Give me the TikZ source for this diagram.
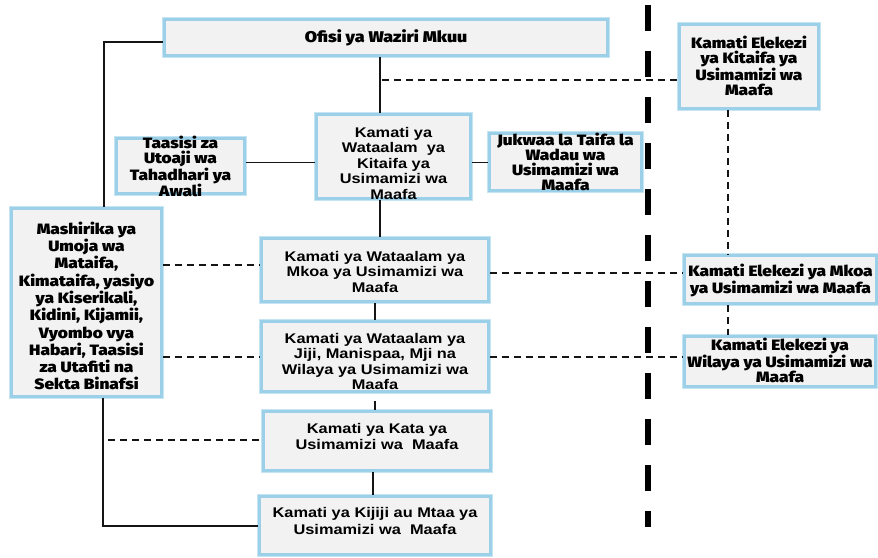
\documentclass[tikz,border=0pt]{standalone}
\usepackage{fontspec}
\setmainfont{Liberation Sans}
\newfontfamily\normfont[FakeStretch=1.17]{Liberation Sans Bold}
\IfFontExistsTF{Fira Sans Black}{\newfontfamily\heavyfont[FakeStretch=1.15]{Fira Sans Black}}{\newfontfamily\heavyfont[FakeStretch=1.18]{Liberation Sans Bold}}
\definecolor{boxfill}{HTML}{F2F2F2}
\definecolor{glow}{HTML}{C6E5F3}
\definecolor{core}{HTML}{9CD0E8}
\definecolor{ink}{HTML}{151515}
\tikzset{
  box/.style={rectangle, fill=boxfill, draw=core, line width=2.8pt,
    preaction={draw=glow, line width=5.5pt}, inner sep=0pt},
  txt/.style={align=center, inner sep=0pt, text=black,
    font=\normfont\fontsize{14}{15.5}\selectfont},
  htxt/.style={align=center, inner sep=0pt, text=black,
    font=\heavyfont\fontsize{15}{15.2}\selectfont},
  link/.style={draw=ink, line width=1.4pt},
  dlink/.style={draw=ink, line width=1.2pt, dash pattern=on 7pt off 5pt},
  divider/.style={draw=black, line width=6pt, dash pattern=on 26pt off 20pt}
}
\begin{document}
\begin{tikzpicture}[x=1pt,y=-1pt]
\useasboundingbox (0,0) rectangle (878,557);

% divider
\coordinate (divtop) at (648,5);
\coordinate (divbot) at (648,527);
\draw[divider] (divtop) -- (divbot);

% boxes
\node[box, minimum width=443, minimum height=36] (ofisi) at (386,37.5) {};
\node[htxt, font=\heavyfont\fontsize{15.5}{15.5}\selectfont] (ofisi-t) at (386,38) {Ofisi ya Waziri Mkuu};

\node[box, minimum width=139, minimum height=84] (elekKit) at (749,66.5) {};
\node[htxt] (elekKit-t) at (749,66) {Kamati Elekezi\\ya Kitaifa ya\\Usimamizi wa\\Maafa};

\node[box, minimum width=154, minimum height=84] (watKit) at (393.5,156.5) {};
\node[txt] (watKit-t) at (393.5,163) {Kamati ya\\Wataalam\ \ ya\\Kitaifa ya\\Usimamizi wa\\Maafa};

\node[box, minimum width=128, minimum height=55] (taasisi) at (180.5,166) {};
\node[htxt, font=\heavyfont\fontsize{15}{15}\selectfont] (taasisi-t) at (180.5,166.5) {Taasisi za\\Utoaji wa\\Tahadhari ya\\Awali};

\node[box, minimum width=152, minimum height=57] (jukwaa) at (565.5,162) {};
\node[htxt, font=\heavyfont\fontsize{15}{15}\selectfont] (jukwaa-t) at (565.5,161.5) {Jukwaa la Taifa la\\Wadau wa\\Usimamizi wa\\Maafa};

\node[box, minimum width=150, minimum height=188] (mashirika) at (86.5,302.5) {};
\node[htxt, font=\heavyfont\fontsize{15}{17.3}\selectfont] (mashirika-t) at (86.5,306) {Mashirika ya\\Umoja wa\\Mataifa,\\Kimataifa, yasiyo\\ya Kiserikali,\\Kidini, Kijamii,\\Vyombo vya\\Habari, Taasisi\\za Utafiti na\\Sekta Binafsi};

\node[box, minimum width=227, minimum height=63] (watMkoa) at (375,270) {};
\node[txt] (watMkoa-t) at (375,271.5) {Kamati ya Wataalam ya\\Mkoa ya Usimamizi wa\\Maafa};

\node[box, minimum width=192, minimum height=48] (elekMkoa) at (780.5,279.5) {};
\node[htxt, font=\heavyfont\fontsize{15}{17}\selectfont] (elekMkoa-t) at (780.5,280.5) {Kamati Elekezi ya Mkoa\\ya Usimamizi wa Maafa};

\node[box, minimum width=227, minimum height=70] (watJiji) at (375,356.5) {};
\node[txt] (watJiji-t) at (375,361.5) {Kamati ya Wataalam ya\\Jiji, Manispaa, Mji na\\Wilaya ya Usimamizi wa\\Maafa};

\node[box, minimum width=191, minimum height=50] (elekWil) at (780,361.5) {};
\node[htxt, font=\heavyfont\fontsize{15}{15.5}\selectfont] (elekWil-t) at (780,360.5) {Kamati Elekezi ya\\Wilaya ya Usimamizi wa\\Maafa};

\node[box, minimum width=227, minimum height=59] (kata) at (377,441) {};
\node[txt, font=\normfont\fontsize{14}{16.5}\selectfont] (kata-t) at (377,436.5) {Kamati ya Kata ya\\Usimamizi wa\ \ Maafa};

\node[box, minimum width=231, minimum height=58] (kijiji) at (375,525.5) {};
\node[txt, font=\normfont\fontsize{14}{16.5}\selectfont] (kijiji-t) at (375,521) {Kamati ya Kijiji au Mtaa ya\\Usimamizi wa\ \ Maafa};

% helper coordinates
\coordinate (c380) at (380,0);
\coordinate (c375) at (375,0);
\coordinate (c373) at (373,0);
\coordinate (c728) at (728,0);
\coordinate (c104) at (104,0);
\coordinate (ofisiL) at (163,42);
\coordinate (mashTopCorner) at (104,42);
\coordinate (mashBotCorner) at (103,526);
\coordinate (y162) at (0,162.5);
\coordinate (y265) at (0,265);
\coordinate (y273) at (0,273);
\coordinate (y357) at (0,357);
\coordinate (d1) at (382,80);
\coordinate (d2) at (108,440);

% solid connectors
\draw[link] (ofisi.south -| c380) -- (watKit.north -| c380);
\draw[link] (taasisi.east |- y162) -- (watKit.west |- y162);
\draw[link] (watKit.east |- y162) -- (jukwaa.west |- y162);
\draw[link] (mashirika.north -| c104) -- (mashTopCorner) -- (ofisi.west |- ofisiL);
\draw[link] (watKit.south -| c380) -- (watMkoa.north -| c380);
\draw[link] (watMkoa.south -| c375) -- (watJiji.north -| c375);
\draw[link] ([yshift=-8pt]watJiji.south -| c375) -- (kata.north -| c375);
\draw[link] (kata.south -| c373) -- (kijiji.north -| c373);
\draw[link] (mashirika.south -| mashBotCorner) -- (mashBotCorner) -- (kijiji.west |- mashBotCorner);

% dashed connectors
\draw[dlink] (d1) -- (elekKit.west |- d1);
\draw[dlink] (elekKit.south -| c728) -- (elekMkoa.north -| c728);
\draw[dlink] (elekMkoa.south -| c728) -- (elekWil.north -| c728);
\draw[dlink] (mashirika.east |- y265) -- (watMkoa.west |- y265);
\draw[dlink] (watMkoa.east |- y273) -- (elekMkoa.west |- y273);
\draw[dlink] (mashirika.east |- y357) -- (watJiji.west |- y357);
\draw[dlink] (watJiji.east |- y357) -- (elekWil.west |- y357);
\draw[dlink] (d2) -- (kata.west |- d2);
\end{tikzpicture}
\end{document}
